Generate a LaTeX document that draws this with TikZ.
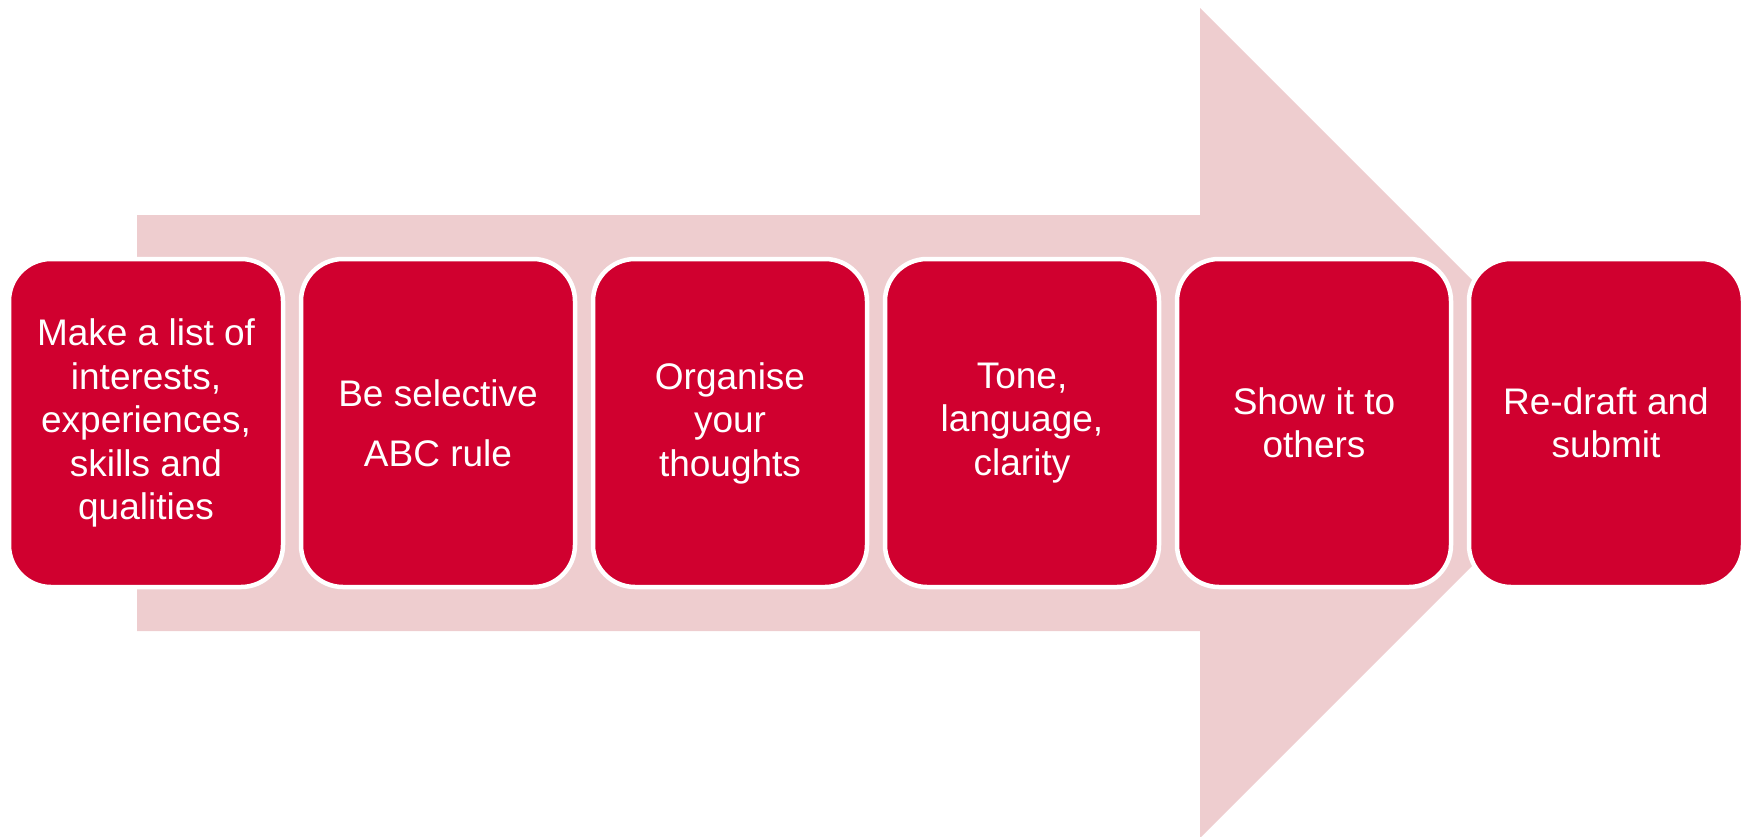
\documentclass[tikz,border=0pt]{standalone}
\usepackage{fontspec}
\setmainfont{Liberation Sans}
\definecolor{stepred}{HTML}{D0002F}
\definecolor{arrowpink}{HTML}{EECDCF}
\begin{document}
\begin{tikzpicture}[x=1pt,y=-1pt,
  stepbox/.style={draw=white, line width=4.5pt, fill=stepred, rounded corners=42pt,
    minimum width=274pt, minimum height=328pt, inner sep=0pt, align=center,
    text=white, font=\fontsize{37}{43.5}\selectfont}]
\useasboundingbox (0,0) rectangle (1750,836);
\clip (0,0) rectangle (1750,836);
\fill[arrowpink] (137,215) -- (1200,215) -- (1200,8) -- (1615,423) -- (1200,838)
  -- (1200,631) -- (137,631) -- cycle;
\node[stepbox] (s1) at (146,423) {Make a list of\\interests,\\experiences,\\skills and\\qualities};
\node[stepbox] (s2) at (438,423) {Be selective\\[16.5pt]ABC rule};
\node[stepbox] (s3) at (730,423) {Organise\\your\\thoughts};
\node[stepbox] (s4) at (1022,423) {Tone,\\language,\\clarity};
\node[stepbox] (s5) at (1314,423) {Show it to\\others};
\node[stepbox] (s6) at (1606,423) {Re-draft and\\submit};
\end{tikzpicture}
\end{document}
